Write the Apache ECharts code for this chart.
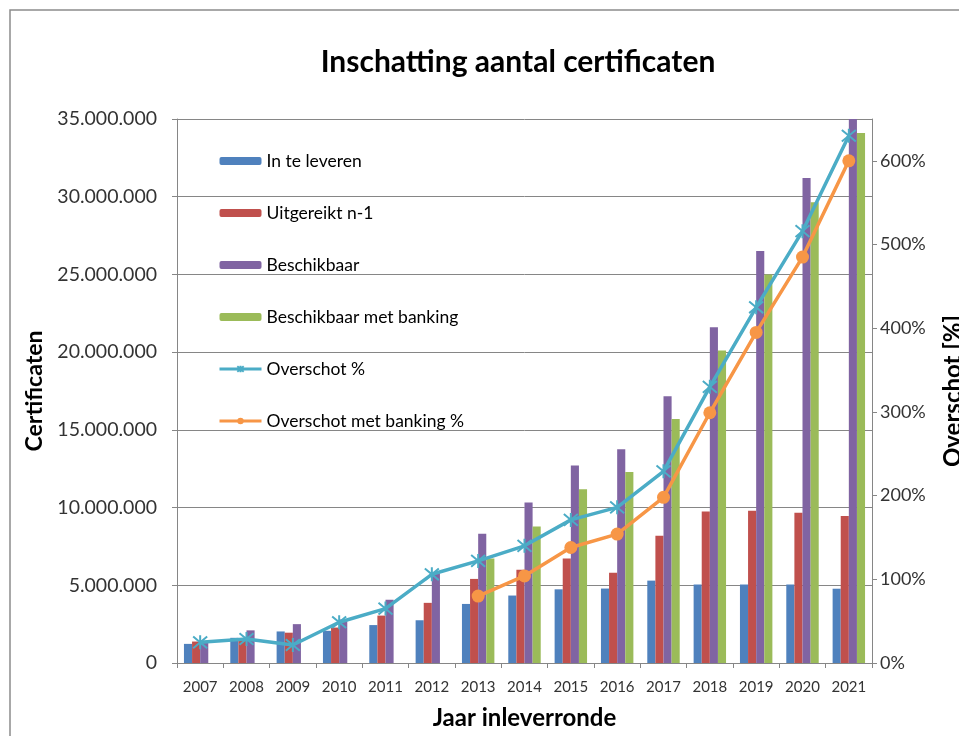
<!DOCTYPE html>
<html><head><meta charset="utf-8">
<script src="https://cdn.jsdelivr.net/npm/echarts@6/dist/echarts.min.js"></script>
<style>html,body{margin:0;padding:0;background:#fff}#c{width:959px;height:736px}</style>
</head><body><div id="c"></div>
<script>
const years = ['2007','2008','2009','2010','2011','2012','2013','2014','2015','2016','2017','2018','2019','2020','2021'];
const inTeLeveren = [1230000,1620000,2030000,2070000,2440000,2750000,3800000,4340000,4740000,4790000,5300000,5050000,5050000,5050000,4780000];
const uitgereikt = [1380000,1550000,1950000,2280000,3050000,3870000,5410000,6000000,6730000,5810000,8180000,9750000,9800000,9660000,9460000];
const beschikbaar = [1350000,2100000,2500000,2800000,4070000,5800000,8310000,10320000,12710000,13760000,17160000,21600000,26500000,31200000,35000000];
const beschikbaarBanking = [null,null,null,null,null,null,6730000,8780000,11180000,12290000,15700000,20100000,25000000,29650000,34100000];
const overschot = [24.7,28.7,21.5,48.7,65,106,122,140,171,186,229,330,425,516,630];
const overschotBanking = [null,null,null,null,null,null,80,104,138,154,198,299,395,485,600];
const leftTicks = {min:0, max:35000000, interval:5000000};
const rightTicks = {min:0, max:650, interval:100};

const FONT = 'Lato, "Open Sans", sans-serif';
const GRAY = '#868686';
const chart = echarts.init(document.getElementById('c'));
const dots = v => String(v).replace(/\B(?=(\d{3})+(?!\d))/g, '.');
const starPath = 'path://M0,0L10,10M10,0L0,10M5,-1L5,11';

chart.setOption({
  animation: false,
  backgroundColor: '#fff',
  graphic: [
    {type:'rect', shape:{x:10,y:10,width:1000,height:800}, style:{fill:'none', stroke:'#8c8c8c', lineWidth:1.5}, silent:true, z:-10},
    {type:'text', x:518, y:62, style:{text:'Inschatting aantal certificaten', font:'bold 30px ' + FONT, fill:'#000', textAlign:'center', textVerticalAlign:'middle'}}
  ],
  grid: {left:177, right:87, top:119, bottom:73, containLabel:false, outerBoundsMode:'none'},
  legend: {
    orient:'vertical', left:213, top:147, itemWidth:42, itemHeight:8, itemGap:34,
    textStyle:{fontSize:17.5, color:'#000', fontFamily:FONT},
    lineStyle:{width:3},
    data:['In te leveren','Uitgereikt n-1','Beschikbaar','Beschikbaar met banking','Overschot %','Overschot met banking %']
  },
  xAxis: {
    type:'category', data:years,
    name:'Jaar inleverronde', nameLocation:'middle', nameGap:43,
    nameTextStyle:{fontSize:24, fontWeight:'bold', color:'#000', fontFamily:FONT},
    axisLine:{lineStyle:{color:GRAY}},
    axisTick:{show:true, interval:0, length:5, lineStyle:{color:GRAY}},
    axisLabel:{interval:0, fontSize:15, color:'#333', fontFamily:FONT, margin:17}
  },
  yAxis: [{
    type:'value', min:leftTicks.min, max:leftTicks.max, interval:leftTicks.interval,
    name:'Certificaten', nameLocation:'middle', nameGap:127, nameRotate:90,
    nameTextStyle:{fontSize:23, fontWeight:'bold', color:'#000', fontFamily:FONT},
    axisLine:{show:true, lineStyle:{color:GRAY}},
    axisTick:{show:true, length:5, lineStyle:{color:GRAY}},
    splitLine:{lineStyle:{color:GRAY, width:1}},
    axisLabel:{fontSize:19.5, color:'#333', fontFamily:FONT, margin:20, formatter:dots}
  },{
    type:'value', min:rightTicks.min, max:rightTicks.max, interval:rightTicks.interval, position:'right',
    name:'Overschot [%]', nameLocation:'middle', nameGap:69, nameRotate:90,
    nameTextStyle:{fontSize:24, fontWeight:'bold', color:'#000', fontFamily:FONT},
    axisLine:{show:true, lineStyle:{color:GRAY}},
    axisTick:{show:true, length:5, lineStyle:{color:GRAY}},
    splitLine:{show:false},
    axisLabel:{fontSize:18, color:'#333', fontFamily:FONT, margin:8, showMaxLabel:false, formatter:'{value}%'}
  }],
  series: [
    {name:'In te leveren', type:'bar', data:inTeLeveren, barGap:'0%', barCategoryGap:'30%', itemStyle:{color:'#4F81BD'}},
    {name:'Uitgereikt n-1', type:'bar', data:uitgereikt, itemStyle:{color:'#C0504D'}},
    {name:'Beschikbaar', type:'bar', data:beschikbaar, itemStyle:{color:'#8064A2'}},
    {name:'Beschikbaar met banking', type:'bar', data:beschikbaarBanking, itemStyle:{color:'#9BBB59'}},
    {name:'Overschot %', type:'line', yAxisIndex:1, data:overschot, symbol:starPath, symbolSize:14,
      lineStyle:{color:'#4BACC6', width:3.5}, itemStyle:{color:'#4BACC6', borderColor:'#4BACC6', borderWidth:2}, z:5},
    {name:'Overschot met banking %', type:'line', yAxisIndex:1, data:overschotBanking, symbol:'circle', symbolSize:13,
      lineStyle:{color:'#F79646', width:3.5}, itemStyle:{color:'#F79646'}, z:6}
  ]
});
</script>
</body></html>
